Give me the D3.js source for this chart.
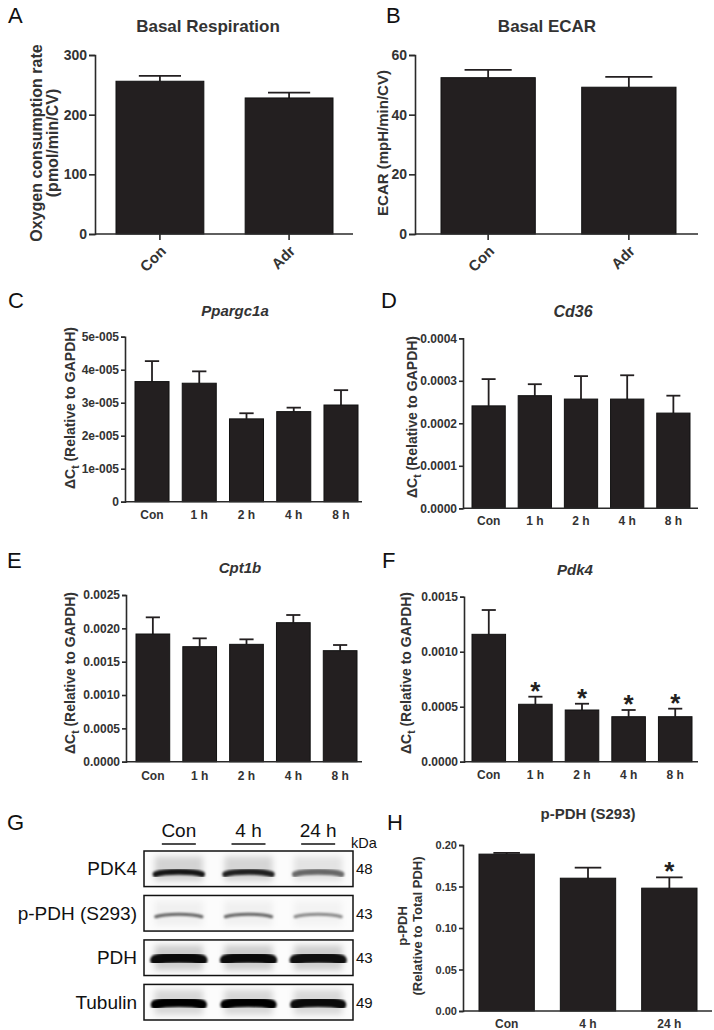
<!DOCTYPE html>
<html><head><meta charset="utf-8">
<script src="https://cdn.jsdelivr.net/npm/d3@7"></script>
<style>
html,body{margin:0;padding:0;background:#fff;}
svg{display:block;}
</style></head><body>
<svg id="fig" width="714" height="1030"></svg>
<script>
// ---------------- DATA ----------------
const groupsAB = ["Con", "Adr"];
const ocrMean = [256, 228];
const ocrSem = [9, 9];
const ocrTicks = [0, 100, 200, 300];
const ocrTickLabels = ["0", "100", "200", "300"];

const ecarMean = [52.4, 49.2];
const ecarSem = [2.6, 3.5];
const ecarTicks = [0, 20, 40, 60];
const ecarTickLabels = ["0", "20", "40", "60"];

const timeGroups = ["Con", "1 h", "2 h", "4 h", "8 h"];

const ppargc1aMean = [3.64e-5, 3.59e-5, 2.51e-5, 2.73e-5, 2.93e-5];
const ppargc1aSem = [0.62e-5, 0.36e-5, 0.17e-5, 0.12e-5, 0.45e-5];
const ppargc1aTicks = [0, 1e-5, 2e-5, 3e-5, 4e-5, 5e-5];
const ppargc1aTickLabels = ["0", "1e-005", "2e-005", "3e-005", "4e-005", "5e-005"];

const cd36Mean = [2.41e-4, 2.65e-4, 2.57e-4, 2.57e-4, 2.24e-4];
const cd36Sem = [0.63e-4, 0.27e-4, 0.54e-4, 0.56e-4, 0.41e-4];
const cd36Ticks = [0, 1e-4, 2e-4, 3e-4, 4e-4];
const cd36TickLabels = ["0.0000", "0.0001", "0.0002", "0.0003", "0.0004"];

const cpt1bMean = [1.915e-3, 1.725e-3, 1.76e-3, 2.085e-3, 1.665e-3];
const cpt1bSem = [0.25e-3, 0.125e-3, 0.075e-3, 0.115e-3, 0.085e-3];
const cpt1bTicks = [0, 0.0005, 0.001, 0.0015, 0.002, 0.0025];
const cpt1bTickLabels = ["0.0000", "0.0005", "0.0010", "0.0015", "0.0020", "0.0025"];

const pdk4Mean = [1.158e-3, 0.522e-3, 0.47e-3, 0.409e-3, 0.409e-3];
const pdk4Sem = [0.221e-3, 0.069e-3, 0.057e-3, 0.061e-3, 0.073e-3];
const pdk4Sig = [false, true, true, true, true];
const pdk4Ticks = [0, 0.0005, 0.001, 0.0015];
const pdk4TickLabels = ["0.0000", "0.0005", "0.0010", "0.0015"];

const blotLanes = ["Con", "4 h", "24 h"];
const blotProteins = ["PDK4", "p-PDH (S293)", "PDH", "Tubulin"];
const blotKDa = ["48", "43", "43", "49"];
const pdk4BandIntensity = [0.9, 0.85, 0.55];
const pPdhBandIntensity = [0.6, 0.6, 0.45];
const pdhBandIntensity = [0.95, 0.95, 0.93];
const tubulinBandIntensity = [1, 1, 0.95];

const pPdhGroups = ["Con", "4 h", "24 h"];
const pPdhMean = [0.189, 0.16, 0.148];
const pPdhSem = [0.0015, 0.0127, 0.013];
const pPdhSig = [false, false, true];
const pPdhTicks = [0, 0.05, 0.1, 0.15, 0.2];
const pPdhTickLabels = ["0.00", "0.05", "0.10", "0.15", "0.20"];

// ---------------- STYLE ----------------
const FONT = '"Liberation Sans", Arial, Helvetica, sans-serif';
const INK = "#231f20";
const AXIS = "#2a2a2a";

const svg = d3.select("#fig").attr("font-family", FONT);
const defs = svg.append("defs");
defs.append("filter").attr("id", "blur").attr("x", "-20%").attr("y", "-100%").attr("width", "140%").attr("height", "300%")
  .append("feGaussianBlur").attr("stdDeviation", 1.3);
defs.append("filter").attr("id", "haze").attr("x", "-20%").attr("y", "-100%").attr("width", "140%").attr("height", "300%")
  .append("feGaussianBlur").attr("stdDeviation", 3);

function letter(t, x, y) {
  svg.append("text").attr("x", x).attr("y", y).attr("font-size", 22).attr("fill", "#111").text(t);
}

function barPanel(o) {
  const g = svg.append("g");
  const y = d3.scaleLinear().domain([0, o.yMax]).range([o.y0, o.y1]);
  const x = d3.scaleBand().domain(o.cats).range([o.barL, o.barR]).paddingInner(o.padIn).paddingOuter(0);
  const bw = x.bandwidth();
  const rows = o.cats.map((c, i) => ({ c, m: o.mean[i], s: o.sem[i], sig: o.sig ? o.sig[i] : false }));

  const cw = bw * o.cap;
  g.selectAll("line.eb").data(rows).join("line")
    .attr("x1", d => x(d.c) + bw / 2).attr("x2", d => x(d.c) + bw / 2)
    .attr("y1", d => y(d.m)).attr("y2", d => y(d.m + d.s))
    .attr("stroke", INK).attr("stroke-width", 1.8);
  g.selectAll("line.cap").data(rows).join("line")
    .attr("x1", d => x(d.c) + bw / 2 - cw / 2).attr("x2", d => x(d.c) + bw / 2 + cw / 2)
    .attr("y1", d => y(d.m + d.s)).attr("y2", d => y(d.m + d.s))
    .attr("stroke", INK).attr("stroke-width", 1.8);
  g.selectAll("rect.bar").data(rows).join("rect")
    .attr("x", d => x(d.c)).attr("width", bw)
    .attr("y", d => y(d.m)).attr("height", d => o.y0 - y(d.m))
    .attr("fill", INK).attr("stroke", "#111").attr("stroke-width", 1);
  g.selectAll("text.sig").data(rows.filter(d => d.sig)).join("text")
    .attr("x", d => x(d.c) + bw / 2).attr("y", d => y(d.m + d.s) + (o.starDy || 0))
    .attr("text-anchor", "middle").attr("font-weight", "bold").attr("font-size", o.starFs || 24)
    .attr("fill", INK).text("*");

  const ya = g.append("g").attr("transform", `translate(${o.axX},0)`)
    .call(d3.axisLeft(y).tickValues(o.ticks).tickFormat((d, i) => o.tickLabels[i])
      .tickSizeOuter(0).tickSize(o.tickLen || 5).tickPadding(2));
  ya.attr("font-family", FONT).attr("font-size", o.tickFs).attr("font-weight", "bold");
  ya.select(".domain").attr("stroke", AXIS).attr("stroke-width", 1.6);
  ya.selectAll(".tick line").attr("stroke", AXIS).attr("stroke-width", 1.6);
  ya.selectAll(".tick text").attr("fill", "#333");

  const xa = g.append("g").attr("transform", `translate(0,${o.y0})`)
    .call(d3.axisBottom(x).tickSizeOuter(0).tickSize(o.xTick || 0));
  xa.select(".domain").remove();
  xa.attr("font-family", FONT).attr("font-size", o.xFs).attr("font-weight", "bold");
  xa.selectAll(".tick line").attr("stroke", AXIS).attr("stroke-width", 1.6);
  if (o.rotate) {
    xa.selectAll(".tick text").attr("y", 0).attr("dy", 0).attr("x", 0)
      .attr("text-anchor", "end").attr("transform", `translate(7,${o.xLabY - o.y0}) rotate(-45)`).attr("fill", "#333");
  } else {
    xa.selectAll(".tick text").attr("y", o.xLabY - o.y0).attr("dy", 0).attr("fill", "#333");
  }
  g.append("line").attr("x1", o.axX).attr("x2", o.axEnd).attr("y1", o.y0).attr("y2", o.y0)
    .attr("stroke", AXIS).attr("stroke-width", 1.6);

  g.append("text").attr("x", o.titleX).attr("y", o.titleY).attr("text-anchor", "middle")
    .attr("font-weight", "bold").attr("font-size", o.titleFs).attr("font-style", o.italic ? "italic" : "normal")
    .attr("fill", "#333").text(o.title);

  o.ylab.forEach(l => {
    const t = g.append("text").attr("transform", `translate(${l.x},${o.ylabY}) rotate(-90)`)
      .attr("text-anchor", "middle").attr("font-weight", "bold").attr("font-size", o.ylabFs).attr("fill", "#333");
    if (l.dct) {
      t.append("tspan").text("\u0394C");
      t.append("tspan").attr("font-size", o.ylabFs * 0.72).attr("dy", o.ylabFs * 0.28).text("t");
      t.append("tspan").attr("dy", -o.ylabFs * 0.28).text(" (Relative to GAPDH)");
    } else {
      t.text(l.text);
    }
  });
}

// ---------------- PANELS ----------------
letter("A", 8, 23);
barPanel({
  cats: groupsAB, mean: ocrMean, sem: ocrSem, yMax: 300, ticks: ocrTicks, tickLabels: ocrTickLabels,
  y0: 234, y1: 55, axX: 95, axEnd: 353, barL: 116, barR: 333, padIn: 0.32, cap: 0.48,
  tickFs: 14, tickLen: 6, xFs: 15, xTick: 6, rotate: true, xLabY: 252,
  title: "Basal Respiration", titleX: 208, titleY: 32, titleFs: 17,
  ylab: [{ text: "Oxygen consumption rate", x: 42 }, { text: "(pmol/min/CV)", x: 58 }], ylabY: 143, ylabFs: 16
});

letter("B", 386, 23);
barPanel({
  cats: groupsAB, mean: ecarMean, sem: ecarSem, yMax: 60, ticks: ecarTicks, tickLabels: ecarTickLabels,
  y0: 234, y1: 55, axX: 415, axEnd: 698, barL: 441, barR: 676, padIn: 0.33, cap: 0.5,
  tickFs: 14, tickLen: 6, xFs: 15, xTick: 6, rotate: true, xLabY: 252,
  title: "Basal ECAR", titleX: 547, titleY: 32, titleFs: 17,
  ylab: [{ text: "ECAR (mpH/min/CV)", x: 388 }], ylabY: 143, ylabFs: 15
});

letter("C", 8, 308);
barPanel({
  cats: timeGroups, mean: ppargc1aMean, sem: ppargc1aSem, yMax: 5e-5, ticks: ppargc1aTicks, tickLabels: ppargc1aTickLabels,
  y0: 501.7, y1: 336.7, axX: 125, axEnd: 362, barL: 135, barR: 358, padIn: 0.28, cap: 0.42,
  tickFs: 12, tickLen: 4, xFs: 12, rotate: false, xLabY: 519,
  title: "Ppargc1a", italic: true, titleX: 235, titleY: 316, titleFs: 15,
  ylab: [{ dct: true, x: 75 }], ylabY: 408, ylabFs: 14
});

letter("D", 381, 308);
barPanel({
  cats: timeGroups, mean: cd36Mean, sem: cd36Sem, yMax: 4e-4, ticks: cd36Ticks, tickLabels: cd36TickLabels,
  y0: 508.3, y1: 338.3, axX: 463, axEnd: 698, barL: 472, barR: 690, padIn: 0.28, cap: 0.42,
  tickFs: 12, tickLen: 4, xFs: 12, rotate: false, xLabY: 525,
  title: "Cd36", italic: true, titleX: 573, titleY: 317, titleFs: 16,
  ylab: [{ dct: true, x: 417 }], ylabY: 417, ylabFs: 14
});

letter("E", 7, 568);
barPanel({
  cats: timeGroups, mean: cpt1bMean, sem: cpt1bSem, yMax: 0.0025, ticks: cpt1bTicks, tickLabels: cpt1bTickLabels,
  y0: 761.7, y1: 595, axX: 126, axEnd: 362, barL: 136, barR: 357, padIn: 0.28, cap: 0.42,
  tickFs: 12, tickLen: 4, xFs: 12, rotate: false, xLabY: 780,
  title: "Cpt1b", italic: true, titleX: 240, titleY: 573, titleFs: 15,
  ylab: [{ dct: true, x: 75 }], ylabY: 673, ylabFs: 14
});

letter("F", 382, 568);
barPanel({
  cats: timeGroups, mean: pdk4Mean, sem: pdk4Sem, sig: pdk4Sig, yMax: 0.0015, ticks: pdk4Ticks, tickLabels: pdk4TickLabels,
  y0: 761.7, y1: 596.7, axX: 464, axEnd: 698, barL: 472, barR: 692, padIn: 0.28, cap: 0.42,
  tickFs: 12, tickLen: 4, xFs: 12, rotate: false, xLabY: 779, starFs: 26, starDy: 3,
  title: "Pdk4", italic: true, titleX: 575, titleY: 575, titleFs: 15,
  ylab: [{ dct: true, x: 411 }], ylabY: 673, ylabFs: 14
});

letter("H", 387, 830);
barPanel({
  cats: pPdhGroups, mean: pPdhMean, sem: pPdhSem, sig: pPdhSig, yMax: 0.2, ticks: pPdhTicks, tickLabels: pPdhTickLabels,
  y0: 1011, y1: 845, axX: 463, axEnd: 712, barL: 479, barR: 697, padIn: 0.32, cap: 0.48,
  tickFs: 11, tickLen: 4, xFs: 12, rotate: false, xLabY: 1028, starFs: 26, starDy: 3,
  title: "p-PDH (S293)", titleX: 588, titleY: 819, titleFs: 15,
  ylab: [{ text: "p-PDH", x: 407 }, { text: "(Relative to Total PDH)", x: 422 }], ylabY: 926, ylabFs: 13
});

// ---------------- WESTERN BLOT (G) ----------------
letter("G", 7, 830);
const gb = svg.append("g");
const laneX = d3.scaleBand().domain(blotLanes).range([144, 353]).paddingInner(0.25).paddingOuter(0.125);
const rowY = d3.scaleBand().domain(blotProteins).range([851, 1020]).paddingInner(0.2);
const bandData = [pdk4BandIntensity, pPdhBandIntensity, pdhBandIntensity, tubulinBandIntensity];
const bandStyle = [{ w: 6, dy: 3, haze: 0.18 }, { w: 3, dy: 1, haze: 0.08 }, { w: 11, dy: 0, haze: 0.2 }, { w: 10, dy: 0, haze: 0.15 }];

gb.selectAll("text.lane").data(blotLanes).join("text")
  .attr("x", d => laneX(d) + laneX.bandwidth() / 2).attr("y", 837)
  .attr("text-anchor", "middle").attr("font-size", 19).attr("fill", "#111").text(d => d);
gb.selectAll("line.lane").data(blotLanes).join("line")
  .attr("x1", d => laneX(d) + laneX.bandwidth() / 2 - 17).attr("x2", d => laneX(d) + laneX.bandwidth() / 2 + 17)
  .attr("y1", 844).attr("y2", 844).attr("stroke", "#111").attr("stroke-width", 1.6);
gb.append("text").attr("x", 351).attr("y", 848).attr("font-size", 14.5).attr("fill", "#111").text("kDa");

function bandPath(x0, x1, cy) {
  return `M${x0},${cy + 2.5} C${x0 + 9},${cy - 1} ${x1 - 9},${cy - 1} ${x1},${cy + 2.5}`;
}

blotProteins.forEach((p, ri) => {
  const top = rowY(p), h = rowY.bandwidth(), cy = top + h / 2;
  gb.append("rect").attr("x", 144).attr("y", top).attr("width", 209).attr("height", h)
    .attr("fill", "#fcfcfc").attr("stroke", "#111").attr("stroke-width", 1.5);
  const st = bandStyle[ri];
  // faint haze
  gb.append("g").attr("filter", "url(#haze)")
    .selectAll("rect").data(bandData[ri]).join("rect")
    .attr("x", (d, i) => laneX(blotLanes[i]) + 2).attr("width", laneX.bandwidth() - 4)
    .attr("y", cy - h * 0.35).attr("height", h * 0.7)
    .attr("fill", "#000").attr("fill-opacity", d => d * st.haze);
  // main band
  gb.append("g").attr("filter", "url(#blur)")
    .selectAll("path").data(bandData[ri]).join("path")
    .attr("d", (d, i) => bandPath(laneX(blotLanes[i]) + 3, laneX(blotLanes[i]) + laneX.bandwidth() - 3, cy + st.dy))
    .attr("fill", "none").attr("stroke", "#000").attr("stroke-width", st.w).attr("stroke-linecap", "round")
    .attr("stroke-opacity", d => d);
  gb.append("text").attr("x", 137).attr("y", cy + 6.5).attr("text-anchor", "end")
    .attr("font-size", 19).attr("fill", "#111").text(p);
  gb.append("text").attr("x", 356).attr("y", cy + 5.5).attr("font-size", 15).attr("fill", "#111").text(blotKDa[ri]);
});
</script>
</body></html>
